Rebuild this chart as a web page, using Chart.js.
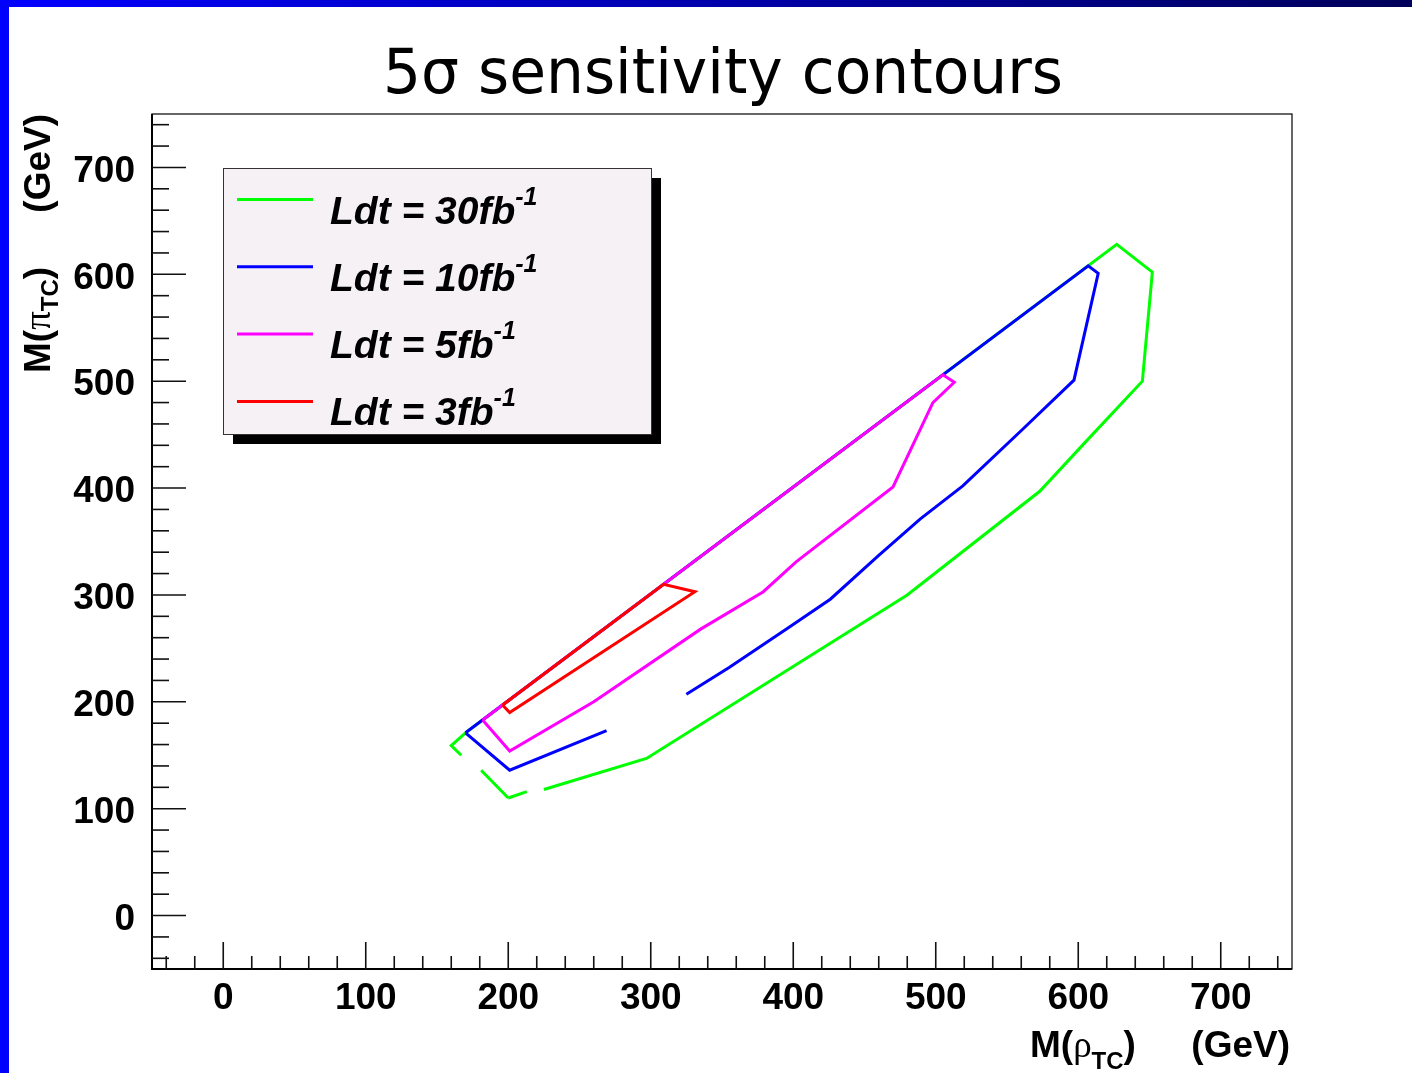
<!DOCTYPE html>
<html>
<head>
<meta charset="utf-8">
<script src="https://cdn.jsdelivr.net/npm/chart.js@4.4.0/dist/chart.umd.min.js"></script>
<style>
  html, body { margin: 0; padding: 0; background: #fff; }
  canvas { display: block; }
</style>
</head>
<body>
<canvas id="contour-chart" width="1412" height="1073"></canvas>
<script>
// integrated luminosity of each contour (fb^-1) and its colour
const lumis = [30, 10, 5, 3];
const colors = ['#00ff00', '#0000ff', '#ff00ff', '#ff0000'];

// contour points: M(rho_TC) and M(pi_TC) in GeV, null = gap in the drawn line
const rho30 = [200, 213, 219, 225, 297, 480, 573, 605, 645, 652, 627, 170, 160, 167, 174, 181, 200];
const pi30  = [110, 116, null, 118, 147, 300, 397, 443, 500, 602, 628, 171, 159, 150, null, 136, 110];

const rho10 = [170, 201, 269, 297, 325, 355, 395, 426, 460, 489, 519, 561, 597, 614, 607, 170];
const pi10  = [171, 136, 173, null, 207, 232, 268, 296, 337, 371, 402, 455, 501, 601, 608, 171];

const rho5 = [182, 201, 260, 335, 379, 402, 470, 498, 513, 505, 182];
const pi5  = [183, 154, 200, 268, 303, 331, 401, 480, 499, 506, 183];

const rho3 = [196, 309, 331, 201, 196];
const pi3  = [197, 310, 303, 190, 197];

const xTicks = [0, 100, 200, 300, 400, 500, 600, 700];
const yTicks = [0, 100, 200, 300, 400, 500, 600, 700];

const contours = [[rho30, pi30], [rho10, pi10], [rho5, pi5], [rho3, pi3]];

const tickFont = { family: 'Liberation Sans, Arial, sans-serif', weight: 'bold', size: 37 };

function drawParts(ctx, parts, x, y) {
    parts.forEach(p => {
        ctx.font = p.font;
        ctx.fillText(p.text, x, y + (p.dy || 0));
        x += ctx.measureText(p.text).width;
    });
}

const decorations = {
    id: 'decorations',
    beforeDraw(chart) {
        const ctx = chart.ctx;
        ctx.save();
        ctx.fillStyle = '#ffffff';
        ctx.fillRect(0, 0, chart.width, chart.height);
        const grad = ctx.createLinearGradient(0, 0, chart.width, 0);
        grad.addColorStop(0, '#0000ff');
        grad.addColorStop(1, '#00005a');
        ctx.fillStyle = grad;
        ctx.fillRect(0, 0, chart.width, 7);
        ctx.fillStyle = '#0000ff';
        ctx.fillRect(0, 0, 9, chart.height);
        ctx.restore();
    },
    afterDraw(chart) {
        const ctx = chart.ctx;
        const { left, right, top, bottom } = chart.chartArea;
        const xs = chart.scales.x, ys = chart.scales.y;
        ctx.save();

        // frame
        ctx.strokeStyle = '#000';
        ctx.lineWidth = 1.2;
        ctx.strokeRect(left, top, right - left, bottom - top);
        ctx.lineWidth = 2;
        ctx.beginPath();
        ctx.moveTo(left, top); ctx.lineTo(left, bottom); ctx.lineTo(right, bottom);
        ctx.stroke();

        // tick marks inside the frame
        ctx.lineWidth = 1.6;
        ctx.strokeStyle = '#111';
        for (let v = -40; v <= 740; v += 20) {
            const major = v % 100 === 0;
            const px = xs.getPixelForValue(v);
            ctx.beginPath();
            ctx.moveTo(px, bottom);
            ctx.lineTo(px, bottom - (major ? 27 : 13));
            ctx.stroke();
            const py = ys.getPixelForValue(v);
            ctx.beginPath();
            ctx.moveTo(left, py);
            ctx.lineTo(left + (major ? 34 : 17), py);
            ctx.stroke();
        }

        // title
        ctx.fillStyle = '#000';
        ctx.font = '62px "DejaVu Sans", sans-serif';
        ctx.textBaseline = 'alphabetic';
        ctx.textAlign = 'left';
        const title = '5σ sensitivity contours';
        const tw = ctx.measureText(title).width;
        ctx.save();
        ctx.translate(383, 93);
        ctx.scale(680 / tw, 1);
        ctx.fillText(title, 0, 0);
        ctx.restore();

        // axis titles
        const bold = 'bold 37px "Liberation Sans", Arial, sans-serif';
        const sub = 'bold 24px "Liberation Sans", Arial, sans-serif';
        const greek = '37px "Liberation Serif", serif';
        drawParts(ctx, [
            { text: 'M(', font: bold },
            { text: 'ρ', font: greek },
            { text: 'TC', font: sub, dy: 12 },
            { text: ')', font: bold }
        ], 1030, 1057);
        ctx.font = bold;
        ctx.textAlign = 'right';
        ctx.fillText('(GeV)', right - 2, 1057);
        ctx.textAlign = 'left';

        ctx.save();
        ctx.translate(50, 373);
        ctx.rotate(-Math.PI / 2);
        drawParts(ctx, [
            { text: 'M(', font: bold },
            { text: 'π', font: greek },
            { text: 'TC', font: sub, dy: 8 },
            { text: ')', font: bold }
        ], 0, 0);
        ctx.font = bold;
        ctx.textAlign = 'right';
        ctx.fillText('(GeV)', 373 - top, 0);
        ctx.restore();

        // legend
        const bx = 223, by = 168, bw = 428, bh = 266;
        ctx.fillStyle = '#000';
        ctx.fillRect(bx + 10, by + 10, bw, bh);
        ctx.fillStyle = '#f5f1f5';
        ctx.fillRect(bx, by, bw, bh);
        ctx.strokeStyle = '#333';
        ctx.lineWidth = 1;
        ctx.strokeRect(bx + 0.5, by + 0.5, bw, bh);
        lumis.forEach((l, i) => {
            const ly = 199.5 + i * 67.3;
            ctx.strokeStyle = colors[i];
            ctx.lineWidth = 3;
            ctx.beginPath();
            ctx.moveTo(237, ly);
            ctx.lineTo(313, ly);
            ctx.stroke();
            ctx.fillStyle = '#000';
            drawParts(ctx, [
                { text: 'Ldt = ' + l + 'fb', font: 'italic bold 39px "Liberation Sans", Arial, sans-serif' },
                { text: '-1', font: 'italic bold 25px "Liberation Sans", Arial, sans-serif', dy: -19 }
            ], 330, ly + 24);
        });
        ctx.restore();
    }
};

new Chart(document.querySelector('#contour-chart').getContext('2d'), {
    type: 'scatter',
    data: {
        datasets: contours.map(([rho, pi], i) => ({
            label: 'Ldt = ' + lumis[i] + 'fb-1',
            data: rho.map((x, j) => ({ x: x, y: pi[j] })),
            showLine: true,
            spanGaps: false,
            borderColor: colors[i],
            backgroundColor: colors[i],
            borderWidth: 3,
            pointRadius: 0,
            tension: 0,
            order: lumis.length - i
        }))
    },
    options: {
        responsive: false,
        animation: false,
        devicePixelRatio: 1,
        layout: { padding: { left: 10, top: 114, right: 120, bottom: 4 } },
        plugins: {
            legend: { display: false },
            tooltip: { enabled: false }
        },
        scales: {
            x: {
                type: 'linear',
                min: -50,
                max: 750,
                afterBuildTicks: s => { s.ticks = xTicks.map(v => ({ value: v })); },
                afterFit: s => { s.height = 100; },
                grid: { display: false },
                border: { display: false },
                ticks: { font: tickFont, color: '#000', padding: 0, maxRotation: 0, autoSkip: false }
            },
            y: {
                type: 'linear',
                min: -50,
                max: 750,
                afterBuildTicks: s => { s.ticks = yTicks.map(v => ({ value: v })); },
                afterFit: s => { s.width = 142; },
                grid: { display: false },
                border: { display: false },
                ticks: { font: tickFont, color: '#000', padding: 9, labelOffset: 4, autoSkip: false }
            }
        }
    },
    plugins: [decorations]
});
</script>
</body>
</html>
